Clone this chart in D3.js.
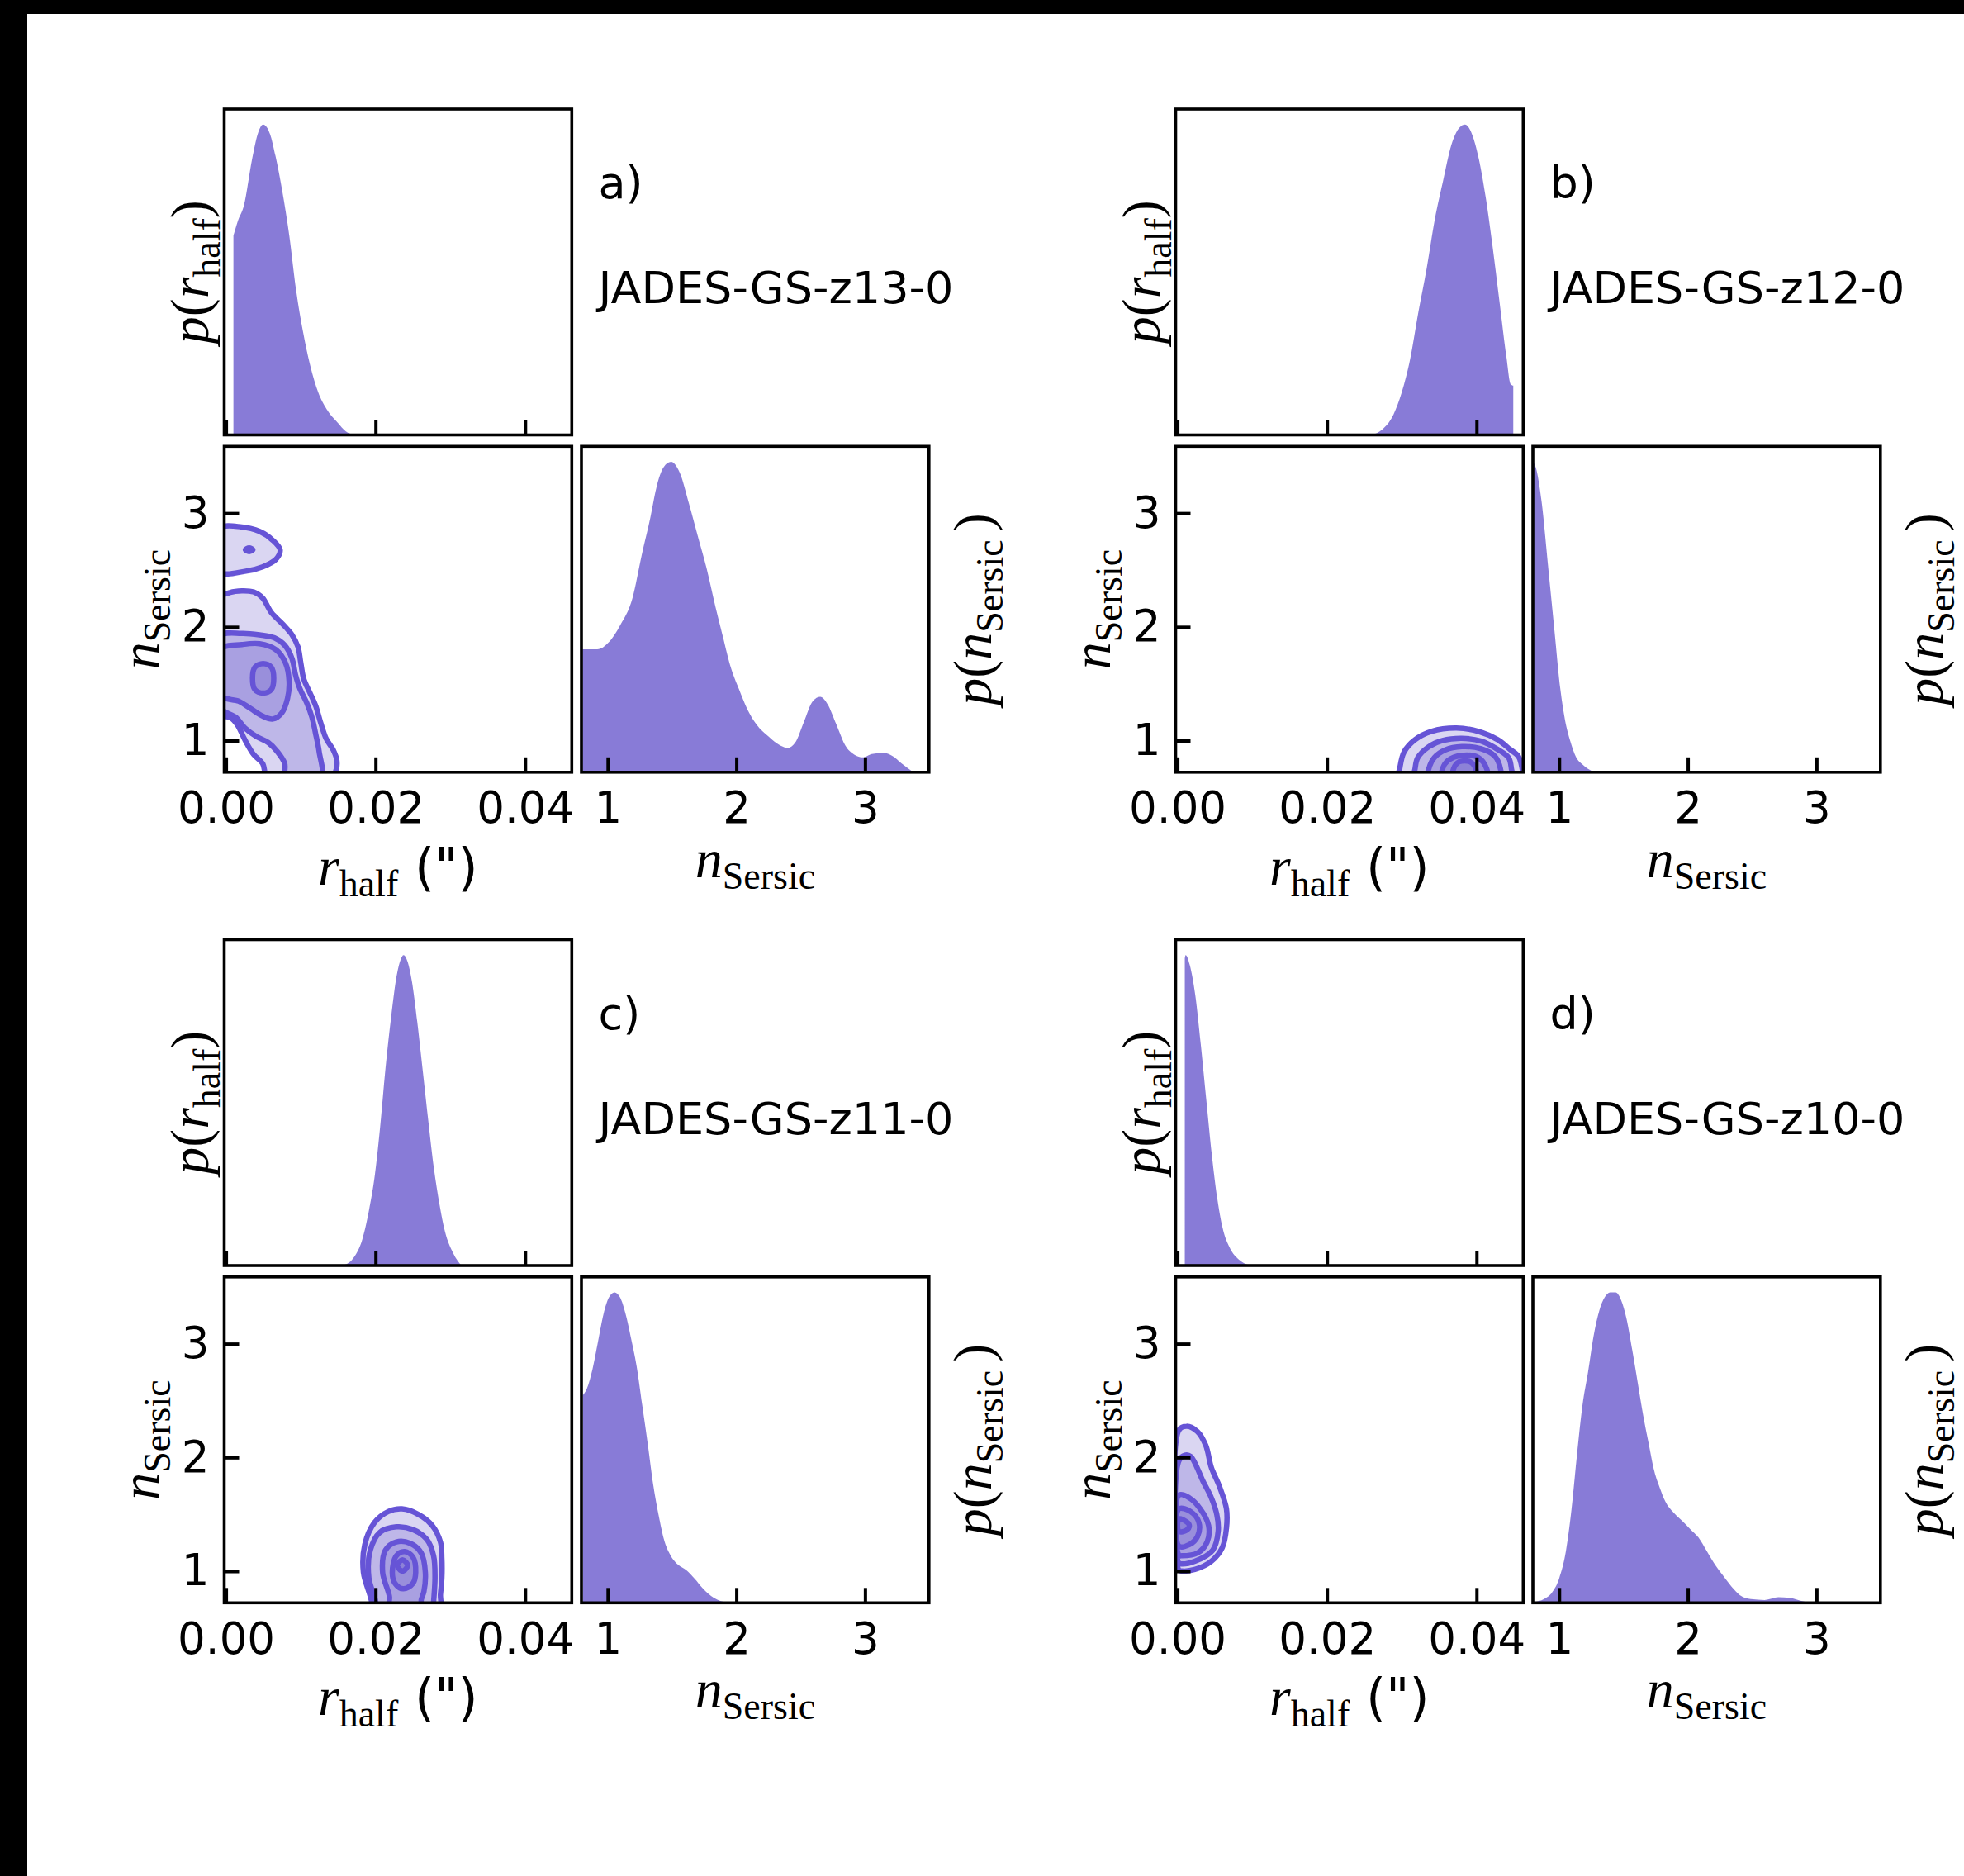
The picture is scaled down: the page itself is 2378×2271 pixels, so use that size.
<!DOCTYPE html>
<html>
<head>
<meta charset="utf-8">
<script src="https://cdn.jsdelivr.net/npm/d3@7"></script>
<style>
  html, body { margin: 0; padding: 0; background: #fff; }
  svg { display: block; }
</style>
</head>
<body>
<svg id="fig" width="2378" height="2271"></svg>
<script>
// ---------------- data ----------------
const galaxies  = ["JADES-GS-z13-0", "JADES-GS-z12-0", "JADES-GS-z11-0", "JADES-GS-z10-0"];
const panelTags = ["a)", "b)", "c)", "d)"];
const rTicks = [0, 0.02, 0.04];
const nTicks = [1, 2, 3];

// marginal posterior of r_half (arcsec) -> density normalised to its peak
const rHalfPdfZ13 = [[0.00100,0.642],[0.00160,0.690],[0.00240,0.739],[0.00350,0.889],[0.00424,0.969],[0.00498,1.0],[0.00590,0.969],[0.00663,0.898],[0.00755,0.783],[0.00847,0.642],[0.00939,0.465],[0.01031,0.332],[0.01124,0.226],[0.01234,0.137],[0.01344,0.084],[0.01492,0.040],[0.01600,0.012],[0.01712,0]];
const rHalfPdfZ12 = [[0.02595,0],[0.02742,0.018],[0.02890,0.066],[0.03000,0.137],[0.03111,0.243],[0.03221,0.394],[0.03332,0.535],[0.03442,0.695],[0.03553,0.819],[0.03663,0.934],[0.03774,0.991],[0.03847,1.0],[0.03939,0.969],[0.04031,0.889],[0.04123,0.765],[0.04215,0.606],[0.04307,0.429],[0.04399,0.252],[0.04455,0.164],[0.04491,0.159]];
const rHalfPdfZ11 = [[0.01565,0],[0.01713,0.027],[0.01823,0.084],[0.01915,0.181],[0.01989,0.288],[0.02062,0.447],[0.02136,0.642],[0.02209,0.801],[0.02283,0.934],[0.02338,0.987],[0.02375,1.0],[0.02430,0.978],[0.02486,0.916],[0.02559,0.783],[0.02633,0.624],[0.02706,0.465],[0.02780,0.314],[0.02854,0.199],[0.02927,0.111],[0.03038,0.040],[0.03148,0]];
const rHalfPdfZ10 = [[0.00099,0.99],[0.00110,1.0],[0.00165,0.969],[0.00239,0.872],[0.00313,0.712],[0.00386,0.535],[0.00460,0.358],[0.00533,0.217],[0.00607,0.119],[0.00699,0.058],[0.00828,0.018],[0.00975,0]];

// marginal posterior of the Sersic index -> density normalised to its peak
const nSersicPdfZ13 = [[0.804,0.396],[0.919,0.396],[1.011,0.420],[1.102,0.477],[1.194,0.563],[1.263,0.697],[1.332,0.821],[1.378,0.916],[1.435,0.983],[1.493,1.0],[1.561,0.964],[1.630,0.868],[1.699,0.763],[1.768,0.658],[1.837,0.534],[1.894,0.439],[1.952,0.344],[2.021,0.267],[2.089,0.200],[2.158,0.153],[2.250,0.115],[2.342,0.086],[2.399,0.078],[2.457,0.095],[2.525,0.162],[2.594,0.229],[2.652,0.243],[2.709,0.219],[2.778,0.153],[2.847,0.086],[2.916,0.057],[2.985,0.048],[3.053,0.059],[3.145,0.062],[3.214,0.052],[3.283,0.029],[3.375,0]];
const nSersicPdfZ12 = [[0.796,1.0],[0.820,0.98],[0.864,0.871],[0.913,0.669],[0.961,0.468],[1.010,0.266],[1.045,0.170],[1.087,0.100],[1.130,0.050],[1.184,0.024],[1.250,0.005],[1.300,0]];
const nSersicPdfZ11 = [[0.807,0.669],[0.839,0.691],[0.882,0.753],[0.925,0.842],[0.968,0.931],[1.010,0.984],[1.053,1.0],[1.096,0.984],[1.139,0.931],[1.182,0.851],[1.225,0.762],[1.268,0.638],[1.311,0.513],[1.354,0.380],[1.396,0.282],[1.439,0.202],[1.482,0.158],[1.546,0.123],[1.611,0.105],[1.675,0.078],[1.739,0.047],[1.825,0.016],[1.932,0]];
const nSersicPdfZ10 = [[0.807,0.003],[0.882,0.012],[0.946,0.034],[1.000,0.078],[1.053,0.167],[1.096,0.300],[1.139,0.478],[1.182,0.638],[1.225,0.744],[1.268,0.860],[1.311,0.940],[1.354,0.984],[1.396,1.0],[1.439,1.0],[1.482,0.975],[1.525,0.913],[1.568,0.815],[1.611,0.709],[1.654,0.602],[1.696,0.513],[1.739,0.425],[1.782,0.371],[1.825,0.327],[1.889,0.291],[1.954,0.265],[2.018,0.238],[2.082,0.211],[2.147,0.167],[2.211,0.123],[2.275,0.087],[2.340,0.052],[2.404,0.025],[2.490,0.012],[2.597,0.009],[2.704,0.018],[2.790,0.016],[2.875,0.007],[2.961,0]];

// joint posterior contours in (r_half, n_Sersic); one list of rings per level, outermost first
const contoursZ13 = [
  [
    [[-0.0008,2.255],[0.00055,2.302],[0.00213,2.317],[0.00370,2.307],[0.00489,2.255],[0.00607,2.125],[0.00764,2.021],[0.00883,1.930],[0.00962,1.826],[0.01001,1.683],[0.01041,1.541],[0.01120,1.424],[0.01199,1.307],[0.01258,1.177],[0.01337,1.021],[0.01435,0.917],[0.01483,0.826],[0.01475,0.748],[0.01396,0.66],[0.00569,0.66],[0.00489,0.800],[0.00370,0.878],[0.00252,1.008],[0.00153,1.138],[0.00055,1.203],[-0.0008,1.229]],
    [[-0.0008,2.865],[0.00213,2.878],[0.00449,2.839],[0.00626,2.761],[0.00725,2.675],[0.00666,2.592],[0.00489,2.527],[0.00252,2.488],[-0.0008,2.483]]
  ],
  [
    [[-0.0008,1.917],[0.00213,1.943],[0.00449,1.930],[0.00646,1.904],[0.00785,1.839],[0.00883,1.722],[0.00930,1.579],[0.00993,1.450],[0.01080,1.333],[0.01151,1.203],[0.01199,1.060],[0.01246,0.904],[0.01270,0.66],[0.00804,0.66],[0.00785,0.800],[0.00686,0.904],[0.00567,0.982],[0.00410,1.034],[0.00252,1.112],[0.00134,1.203],[-0.0008,1.294]],
    [[0.0026,2.678],[0.0031,2.695],[0.0036,2.678],[0.0031,2.662]]
  ],
  [
    [[-0.0008,1.800],[0.00213,1.844],[0.00449,1.852],[0.00666,1.800],[0.00796,1.683],[0.00844,1.527],[0.00824,1.372],[0.00745,1.242],[0.00627,1.190],[0.00489,1.216],[0.00331,1.281],[0.00173,1.346],[-0.0008,1.398]]
  ],
  [
    [[0.00497,1.678],[0.00607,1.644],[0.00639,1.548],[0.00607,1.449],[0.00497,1.418],[0.00386,1.449],[0.00355,1.548],[0.00386,1.644]]
  ]
];
const contoursZ12 = [
  [[[0.02960,0.66],[0.02975,0.76],[0.03030,0.899],[0.03178,1.008],[0.03398,1.081],[0.03730,1.110],[0.04024,1.081],[0.04282,1.008],[0.04448,0.923],[0.04558,0.863],[0.04595,0.80],[0.04590,0.66]]],
  [[[0.03170,0.66],[0.03178,0.753],[0.03214,0.850],[0.03362,0.947],[0.03546,1.001],[0.03803,1.020],[0.04061,0.996],[0.04282,0.923],[0.04429,0.850],[0.04466,0.753],[0.04470,0.66]]],
  [[[0.03350,0.66],[0.03362,0.753],[0.03435,0.850],[0.03583,0.918],[0.03803,0.947],[0.04061,0.928],[0.04245,0.863],[0.04319,0.753],[0.04320,0.66]]],
  [[[0.03540,0.66],[0.03546,0.753],[0.03619,0.826],[0.03803,0.870],[0.04024,0.850],[0.04135,0.753],[0.04140,0.66]]],
  [[[0.03690,0.66],[0.03693,0.753],[0.03767,0.814],[0.03914,0.814],[0.03988,0.753],[0.03990,0.66]]]
];
const contoursZ11 = [
  [[[0.01930,0.66],[0.01948,0.724],[0.01838,0.990],[0.01856,1.233],[0.01985,1.427],[0.02169,1.524],[0.02353,1.548],[0.02574,1.499],[0.02758,1.402],[0.02868,1.257],[0.02887,1.111],[0.02887,0.942],[0.02868,0.796],[0.02850,0.66]]],
  [[[0.01990,0.66],[0.02003,0.724],[0.01911,0.942],[0.01930,1.184],[0.02059,1.342],[0.02279,1.390],[0.02500,1.366],[0.02684,1.281],[0.02776,1.136],[0.02795,0.942],[0.02776,0.724],[0.02770,0.66]]],
  [[[0.02180,0.66],[0.02187,0.772],[0.02095,0.990],[0.02132,1.184],[0.02279,1.257],[0.02463,1.245],[0.02611,1.160],[0.02666,0.990],[0.02647,0.821],[0.02611,0.748],[0.02600,0.66]]],
  [[[0.02224,0.990],[0.02279,1.136],[0.02390,1.172],[0.02500,1.124],[0.02537,0.990],[0.02500,0.893],[0.02371,0.845],[0.02261,0.893]]],
  [[[0.02360,1.100],[0.02430,1.051],[0.02360,1.000],[0.02290,1.051]]]
];
const contoursZ10 = [
  [[[0.0002,2.240],[0.00122,2.275],[0.00269,2.227],[0.00380,2.105],[0.00454,1.912],[0.00564,1.742],[0.00656,1.548],[0.00656,1.378],[0.00601,1.208],[0.00454,1.087],[0.00233,1.015],[0.0006,1.002],[0.0002,1.010]]],
  [[[0.0002,1.970],[0.0010,2.020],[0.00177,2.009],[0.00343,1.790],[0.00454,1.645],[0.00527,1.499],[0.00546,1.354],[0.00472,1.184],[0.00233,1.087],[0.0006,1.063],[0.0002,1.070]]],
  [[[0.0002,1.669],[0.00159,1.645],[0.00306,1.548],[0.00417,1.402],[0.00398,1.257],[0.00269,1.160],[0.0006,1.136],[0.0002,1.140]]],
  [[[0.0002,1.548],[0.00177,1.524],[0.00288,1.427],[0.00269,1.305],[0.00159,1.233],[0.0002,1.221]]],
  [[[0.0002,1.460],[0.0013,1.430],[0.0016,1.400],[0.0012,1.360],[0.0002,1.350]]]
];

const rHalfPdfs   = [rHalfPdfZ13, rHalfPdfZ12, rHalfPdfZ11, rHalfPdfZ10];
const nSersicPdfs = [nSersicPdfZ13, nSersicPdfZ12, nSersicPdfZ11, nSersicPdfZ10];
const contourSets = [contoursZ13, contoursZ12, contoursZ11, contoursZ10];

// ---------------- layout & style ----------------
const PW = 420.8, PH = 394.5, GAP = 13.8;
const colLeft = [271.5, 1423.5];      // left edge of r_half axes
const margLeft = [704, 1856];         // left edge of n_Sersic marginal
const rowTop = [132, 1137.5];         // top of the r_half marginal
const rDomain = [-0.00023, 0.04624];
const nDomainJoint = [0.722, 3.587];
const nDomainMarg = [0.796, 3.497];
const PEAK_PAD = 1.05;

const FILL = "rgba(106,90,205,0.8)";
const LINE = "#6654d6";
const SANS = "'DejaVu Sans', sans-serif";
const SERIF = "'Liberation Serif', 'DejaVu Serif', serif";
const TICK_FS = 53, LABEL_FS = 66, SUB_FS = 46, SUB_DY = 14, PAREN_FS = 62;

const svg = d3.select("#fig");
svg.append("rect").attr("width", 2378).attr("height", 2271).attr("fill", "#fff");
svg.append("rect").attr("x", 0).attr("y", 0).attr("width", 2378).attr("height", 17).attr("fill", "#000");
svg.append("rect").attr("x", 0).attr("y", 0).attr("width", 33).attr("height", 2271).attr("fill", "#000");

const defs = svg.append("defs");
let clipCount = 0;
function clipFor(x, y, w, h) {
  const id = "clip" + (clipCount++);
  defs.append("clipPath").attr("id", id).append("rect")
    .attr("x", x).attr("y", y).attr("width", w).attr("height", h);
  return "url(#" + id + ")";
}

function styleAxis(g, withLabels) {
  g.select(".domain").remove();
  g.attr("font-family", SANS).attr("font-size", TICK_FS).attr("color", "#000");
  g.selectAll(".tick line").attr("stroke", "#000").attr("stroke-width", 4);
  if (!withLabels) g.selectAll(".tick text").remove();
  else g.selectAll(".tick text").attr("fill", "#000");
}

function frame(g, x, y, w, h) {
  g.append("rect").attr("x", x).attr("y", y).attr("width", w).attr("height", h)
    .attr("fill", "none").attr("stroke", "#000").attr("stroke-width", 3.6);
}

// math-style label built from parts: {t, it (italic), sub (subscript), sans}
function mathText(g, parts, x, y, rotate) {
  const t = g.append("text")
    .attr("transform", `translate(${x},${y})` + (rotate ? " rotate(-90)" : ""))
    .attr("text-anchor", "middle").attr("fill", "#000");
  let lowered = false;
  parts.forEach(p => {
    const s = t.append("tspan").text(p.t)
      .attr("font-family", p.sans ? SANS : SERIF)
      .attr("font-style", p.it ? "italic" : "normal")
      .attr("font-size", p.sub ? SUB_FS : (p.sans ? PAREN_FS : LABEL_FS));
    if (p.sub && !lowered) { s.attr("dy", SUB_DY); lowered = true; }
    else if (!p.sub && lowered) { s.attr("dy", -SUB_DY); lowered = false; }
    if (p.dx) s.attr("dx", p.dx);
  });
  return t;
}

const pOfR = [{t: "p", it: true}, {t: "("}, {t: "r", it: true}, {t: "half", sub: true}, {t: ")"}];
const nSer = [{t: "n", it: true}, {t: "Sersic", sub: true}];
const pOfN = [{t: "p", it: true}, {t: "("}, {t: "n", it: true}, {t: "Sersic", sub: true}, {t: ")", dx: 10}];
const rLab = [{t: "r", it: true}, {t: "half", sub: true}, {t: " (\")", sans: true}];

galaxies.forEach((name, i) => {
  const col = i % 2, row = Math.floor(i / 2);
  const g = svg.append("g");
  const left = colLeft[col], mLeft = margLeft[col];
  const hTop = rowTop[row], hBot = hTop + PH;
  const jTop = hBot + GAP, jBot = jTop + PH;

  const x = d3.scaleLinear().domain(rDomain).range([left, left + PW]);
  const yH = d3.scaleLinear().domain([0, PEAK_PAD]).range([hBot, hTop]);
  const yJ = d3.scaleLinear().domain(nDomainJoint).range([jBot, jTop]);
  const xM = d3.scaleLinear().domain(nDomainMarg).range([mLeft, mLeft + PW]);
  const yM = d3.scaleLinear().domain([0, PEAK_PAD]).range([jBot, jTop]);

  // --- r_half marginal ---
  const areaR = d3.area().x(d => x(d[0])).y0(yH(0)).y1(d => yH(d[1])).curve(d3.curveMonotoneX);
  g.append("path").datum(rHalfPdfs[i]).attr("d", areaR).attr("fill", FILL)
    .attr("clip-path", clipFor(left, hTop, PW, PH));
  g.append("g").attr("transform", `translate(0,${hBot})`)
    .call(d3.axisBottom(x).tickValues(rTicks).tickSize(-18).tickFormat(""))
    .call(a => styleAxis(a, false));
  frame(g, left, hTop, PW, PH);

  // --- joint contours ---
  const jc = g.append("g").attr("clip-path", clipFor(left, jTop, PW, PH));
  const ring = d3.line().x(d => x(d[0])).y(d => yJ(d[1])).curve(d3.curveCatmullRomClosed.alpha(0.5));
  const levels = contourSets[i];
  levels.forEach(rings => rings.forEach(r => {
    jc.append("path").attr("d", ring(r)).attr("fill", "#6a5acd").attr("fill-opacity", 0.25).attr("stroke", "none");
  }));
  levels.forEach(rings => rings.forEach(r => {
    jc.append("path").attr("d", ring(r)).attr("fill", "none").attr("stroke", LINE)
      .attr("stroke-width", 6.5).attr("stroke-linejoin", "round");
  }));
  g.append("g").attr("transform", `translate(0,${jBot})`)
    .call(d3.axisBottom(x).tickValues(rTicks).tickSize(-18).tickPadding(24).tickFormat(d3.format(".2f")))
    .call(a => styleAxis(a, true));
  g.append("g").attr("transform", `translate(${left},0)`)
    .call(d3.axisLeft(yJ).tickValues(nTicks).tickSize(-18).tickPadding(18).tickFormat(d3.format("d")))
    .call(a => styleAxis(a, true));
  frame(g, left, jTop, PW, PH);

  // --- n_Sersic marginal ---
  const areaN = d3.area().x(d => xM(d[0])).y0(yM(0)).y1(d => yM(d[1])).curve(d3.curveMonotoneX);
  g.append("path").datum(nSersicPdfs[i]).attr("d", areaN).attr("fill", FILL)
    .attr("clip-path", clipFor(mLeft, jTop, PW, PH));
  g.append("g").attr("transform", `translate(0,${jBot})`)
    .call(d3.axisBottom(xM).tickValues(nTicks).tickSize(-18).tickPadding(24).tickFormat(d3.format("d")))
    .call(a => styleAxis(a, true));
  frame(g, mLeft, jTop, PW, PH);

  // --- labels ---
  mathText(g, pOfR, left - 20, (hTop + hBot) / 2, true);
  mathText(g, nSer, left - 80, (jTop + jBot) / 2, true);
  mathText(g, pOfN, mLeft + PW + 75, (jTop + jBot) / 2, true);
  mathText(g, rLab, left + PW / 2, jBot + 136);
  mathText(g, nSer, mLeft + PW / 2, jBot + 127);

  g.append("text").attr("x", left + 453).attr("y", hTop + 108)
    .attr("font-family", SANS).attr("font-size", 54).attr("fill", "#000").text(panelTags[i]);
  g.append("text").attr("x", left + 453).attr("y", hTop + 235)
    .attr("font-family", SANS).attr("font-size", 54).attr("fill", "#000").text(name);
});
</script>
</body>
</html>
